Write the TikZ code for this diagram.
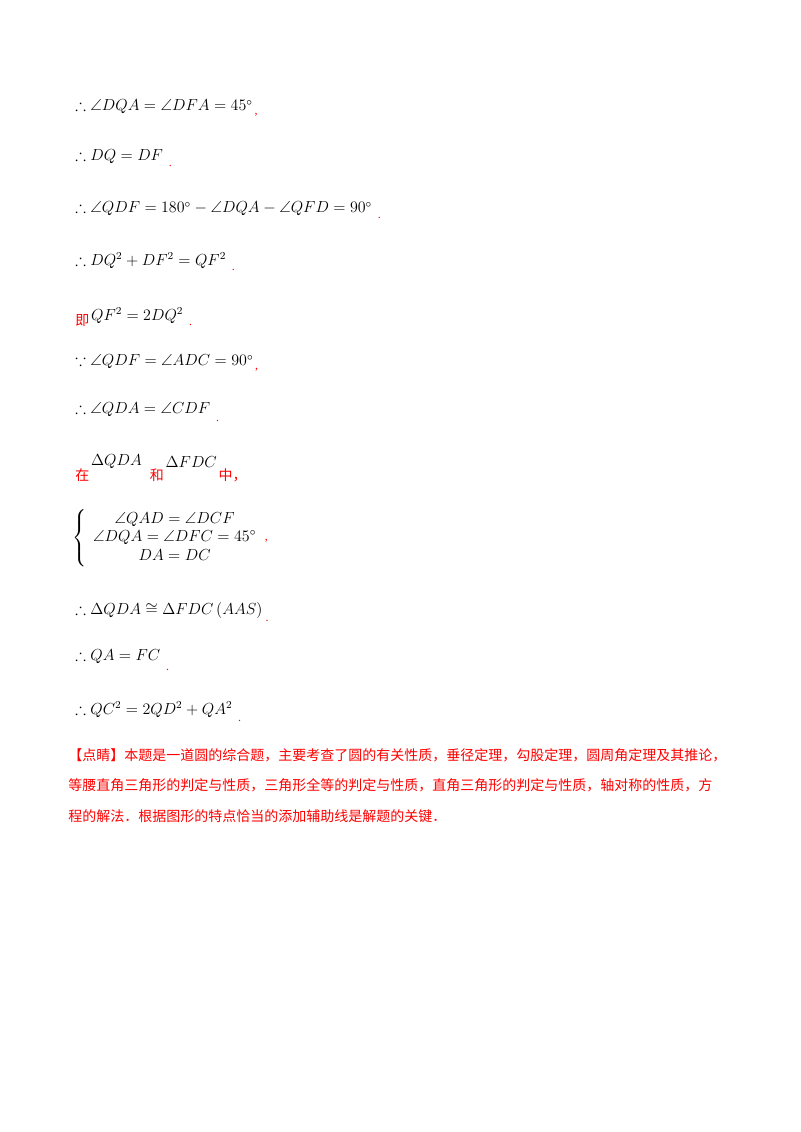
\documentclass[tikz,border=0pt]{standalone}
\usepackage{amsmath,amssymb}
\usepackage{fontspec}
\setmainfont{Liberation Serif}
\newfontfamily\cjk{Noto Sans CJK SC}
\usetikzlibrary{positioning}
\tikzset{
  line/.style={anchor=west,inner sep=0pt,font=\fontsize{12}{14}\selectfont},
  redtxt/.style={anchor=west,inner sep=0pt,text=red,font=\cjk\fontsize{10.5}{23}\selectfont},
  dot/.style={anchor=west,inner sep=0pt,text=red,font=\fontsize{9}{10}\selectfont}
}
\begin{document}
\begin{tikzpicture}[x=0.75pt,y=-0.75pt]
\useasboundingbox (0,0) rectangle (800,1132);
\node[line] (l1) at (75,107) {$\therefore\angle DQA=\angle DFA=45^\circ$};
\node[dot,right=1pt of l1,yshift=-6pt] {,};
\node[line] (l2) at (75,157) {$\therefore DQ=DF$};
\node[dot,right=4pt of l2,yshift=-7pt] {.};
\node[line] (l3) at (75,209) {$\therefore\angle QDF=180^\circ-\angle DQA-\angle QFD=90^\circ$};
\node[dot,right=4pt of l3,yshift=-7pt] {.};
\node[line] (l4) at (75,261) {$\therefore DQ^2+DF^2=QF^2$};
\node[dot,right=4pt of l4,yshift=-7pt] {.};
\node[redtxt] (l5a) at (75,321) {即};
\node[line,right=1pt of l5a,yshift=4pt] (l5) {$QF^2=2DQ^2$};
\node[dot,right=4pt of l5,yshift=-7pt] {.};
\node[line] (l6) at (75,362) {$\because\angle QDF=\angle ADC=90^\circ$};
\node[dot,right=1pt of l6,yshift=-6pt] {,};
\node[line] (l7) at (75,410) {$\therefore\angle QDA=\angle CDF$};
\node[dot,right=4pt of l7,yshift=-8pt] {.};
\node[redtxt] (l8a) at (75,475) {在};
\node[line,right=1pt of l8a,yshift=10pt] (l8b) {$\Delta QDA$};
\node[redtxt,right=1pt of l8a,xshift=44pt] (l8c) {和};
\node[line,right=1pt of l8c,yshift=10pt] (l8d) {$\Delta FDC$};
\node[redtxt,right=1pt of l8d,yshift=-10pt] {中，};
\node[line] (l9) at (72,538) {$\left\{\begin{array}{c}\angle QAD=\angle DCF\\ \angle DQA=\angle DFC=45^\circ\\ DA=DC\end{array}\right.$};
\node[dot,right=0pt of l9,yshift=-2pt] {,};
\node[line] (l10) at (75,610) {$\therefore\Delta QDA\cong\Delta FDC\left(AAS\right)$};
\node[dot,right=2pt of l10,yshift=-8pt] {.};
\node[line] (l11) at (75,657) {$\therefore QA=FC$};
\node[dot,right=4pt of l11,yshift=-10pt] {.};
\node[line] (l12) at (75,710) {$\therefore QC^2=2QD^2+QA^2$};
\node[dot,right=4pt of l12,yshift=-8pt] {.};
\node[redtxt,align=left,anchor=north west] (note) at (68,748) {【点睛】本题是一道圆的综合题，主要考查了圆的有关性质，垂径定理，勾股定理，圆周角定理及其推论，\\等腰直角三角形的判定与性质，三角形全等的判定与性质，直角三角形的判定与性质，轴对称的性质，方\\程的解法．根据图形的特点恰当的添加辅助线是解题的关键．};
\end{tikzpicture}
\end{document}
